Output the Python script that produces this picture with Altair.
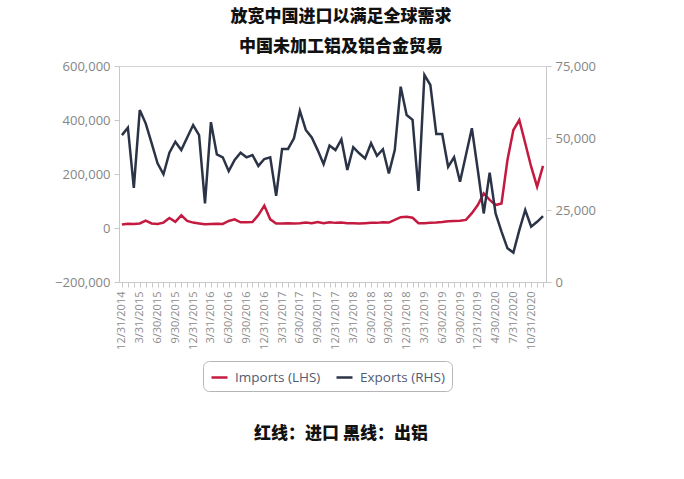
import altair as alt
import pandas as pd

dates = [
    "12/31/2014",
    "1/31/2015", "2/28/2015", "3/31/2015", "4/30/2015", "5/31/2015", "6/30/2015",
    "7/31/2015", "8/31/2015", "9/30/2015", "10/31/2015", "11/30/2015", "12/31/2015",
    "1/31/2016", "2/29/2016", "3/31/2016", "4/30/2016", "5/31/2016", "6/30/2016",
    "7/31/2016", "8/31/2016", "9/30/2016", "10/31/2016", "11/30/2016", "12/31/2016",
    "1/31/2017", "2/28/2017", "3/31/2017", "4/30/2017", "5/31/2017", "6/30/2017",
    "7/31/2017", "8/31/2017", "9/30/2017", "10/31/2017", "11/30/2017", "12/31/2017",
    "1/31/2018", "2/28/2018", "3/31/2018", "4/30/2018", "5/31/2018", "6/30/2018",
    "7/31/2018", "8/31/2018", "9/30/2018", "10/31/2018", "11/30/2018", "12/31/2018",
    "1/31/2019", "2/28/2019", "3/31/2019", "4/30/2019", "5/31/2019", "6/30/2019",
    "7/31/2019", "8/31/2019", "9/30/2019", "10/31/2019", "11/30/2019", "12/31/2019",
    "2/29/2020", "3/31/2020", "4/30/2020", "5/31/2020", "6/30/2020",
    "7/31/2020", "8/31/2020", "9/30/2020", "10/31/2020", "11/30/2020", "12/31/2020",
]

tick_labels = [
    "12/31/2014", "3/31/2015", "6/30/2015", "9/30/2015", "12/31/2015",
    "3/31/2016", "6/30/2016", "9/30/2016", "12/31/2016",
    "3/31/2017", "6/30/2017", "9/30/2017", "12/31/2017",
    "3/31/2018", "6/30/2018", "9/30/2018", "12/31/2018",
    "3/31/2019", "6/30/2019", "9/30/2019", "12/31/2019",
    "4/30/2020", "7/31/2020", "10/31/2020",
]

imports = [
    13000,
    16000, 15000, 17000, 27000, 17000, 15000, 20000, 37000, 23000, 47000, 26000, 20000,
    17000, 14000, 15000, 16000, 15000, 26000, 32000, 21000, 21000, 22000, 48000, 83000,
    32000, 17000, 17000, 18000, 17000, 18000, 20000, 18000, 22000, 18000, 21000, 19000,
    20000, 18000, 18000, 17000, 18000, 19000, 19000, 21000, 20000, 30000, 40000, 42000,
    38000, 18000, 18000, 19000, 20000, 22000, 25000, 26000, 27000, 30000, 55000, 85000,
    128000, 104000, 85000, 91000, 252000, 363000, 400000, 314000, 227000, 153000, 230000,
]

exports = [
    51000,
    53600, 32700, 59700, 55100, 48200, 41200, 37400, 44900, 48700, 45800, 50200, 54500,
    51000, 27300, 55500, 44300, 43300, 38500, 42400, 44900, 43300, 44100, 40300, 42700,
    43300, 29900, 46200, 46200, 49900, 59400, 52800, 50200, 45800, 40900, 47400, 45800,
    49500, 38900, 46800, 44700, 42900, 48200, 43800, 46100, 37700, 45800, 67800, 58000,
    56300, 31600, 71900, 68400, 51400, 51400, 40000, 43300, 34800, 44100, 53400, 38900,
    23800, 38000, 23800, 17500, 11700, 10200, 18000, 25000, 19200, 20900, 22900,
]

series_names = ["Imports (LHS)", "Exports (RHS)"]
series_colors = ["#c41a40", "#2b3346"]

title_lines = ["放宽中国进口以满足全球需求", "中国未加工铝及铝合金贸易"]
footer_text = "红线：进口 黑线：出铝"

df = pd.DataFrame({
    "date": dates * 2,
    "series": [series_names[0]] * len(dates) + [series_names[1]] * len(dates),
    "value": imports + exports,
})

label_js = "[" + ",".join("'" + s + "'" for s in tick_labels) + "]"

color = alt.Color(
    "series:N",
    scale=alt.Scale(domain=series_names, range=series_colors),
    legend=alt.Legend(
        title=None,
        orient="none",
        legendX=84,
        legendY=295,
        direction="horizontal",
        symbolType="stroke",
        symbolStrokeWidth=2.5,
        symbolSize=256,
        labelFont="Open Sans",
        labelFontSize=13.5,
        labelColor="#4f5b75",
        labelOffset=6,
        columnPadding=10,
        padding=7,
        strokeColor="#b5b5b5",
        fillColor="#ffffff",
        cornerRadius=6,
    ),
)

x_enc = alt.X(
    "date:O",
    sort=dates,
    scale=alt.Scale(padding=0.5),
    axis=alt.Axis(
        title=None,
        labelAngle=-90,
        labelFont="Open Sans",
        labelFontSize=11,
        labelColor="#8c8c8c",
        labelExpr="indexof(" + label_js + ", datum.value) >= 0 ? datum.value : ''",
        labelOverlap=False,
        labelPadding=4,
        tickColor="#c8c8c8",
        tickSize=5,
        domainColor="#c8c8c8",
        grid=False,
    ),
)

base = alt.Chart(df)

imp = base.transform_filter(alt.datum.series == series_names[0]).mark_line(strokeWidth=2.5).encode(
    x=x_enc,
    y=alt.Y(
        "value:Q",
        scale=alt.Scale(domain=[-200000, 600000], nice=False, zero=False),
        axis=alt.Axis(
            title=None,
            orient="left",
            values=[-200000, 0, 200000, 400000, 600000],
            format=",.0f",
            labelFont="Open Sans",
            labelFontSize=13,
            labelColor="#858585",
            tickColor="#c8c8c8",
            tickSize=5,
            domainColor="#c8c8c8",
            grid=False,
            labelPadding=4,
        ),
    ),
    color=color,
)

exp = base.transform_filter(alt.datum.series == series_names[1]).mark_line(strokeWidth=2.5).encode(
    x=x_enc,
    y=alt.Y(
        "value:Q",
        scale=alt.Scale(domain=[0, 75000], nice=False, zero=False),
        axis=alt.Axis(
            title=None,
            orient="right",
            values=[0, 25000, 50000, 75000],
            format=",.0f",
            labelFont="Open Sans",
            labelFontSize=13,
            labelColor="#858585",
            tickColor="#c8c8c8",
            tickSize=5,
            domainColor="#c8c8c8",
            grid=False,
            labelPadding=4,
        ),
    ),
    color=color,
)

text_df = pd.DataFrame({"t": [title_lines[0], title_lines[1], footer_text], "yy": [-49, -19, 368]})

texts = alt.Chart(text_df).mark_text(
    font="Noto Sans CJK SC",
    fontSize=17,
    fontWeight=900,
    color="#111111",
    align="center",
    baseline="middle",
).encode(
    text="t:N",
    x=alt.value(222),
    y=alt.Y("yy:Q", scale=None),
)

chart = alt.layer(imp, exp, texts).resolve_scale(y="independent").properties(
    width=427,
    height=216,
    autosize=alt.AutoSizeParams(type="none"),
    padding={"left": 119, "top": 66, "right": 138, "bottom": 197},
    background="#ffffff",
).configure_view(stroke="#d4d4d4", strokeWidth=1)

chart.save("out.html", embed_options={"renderer": "svg", "actions": False})
